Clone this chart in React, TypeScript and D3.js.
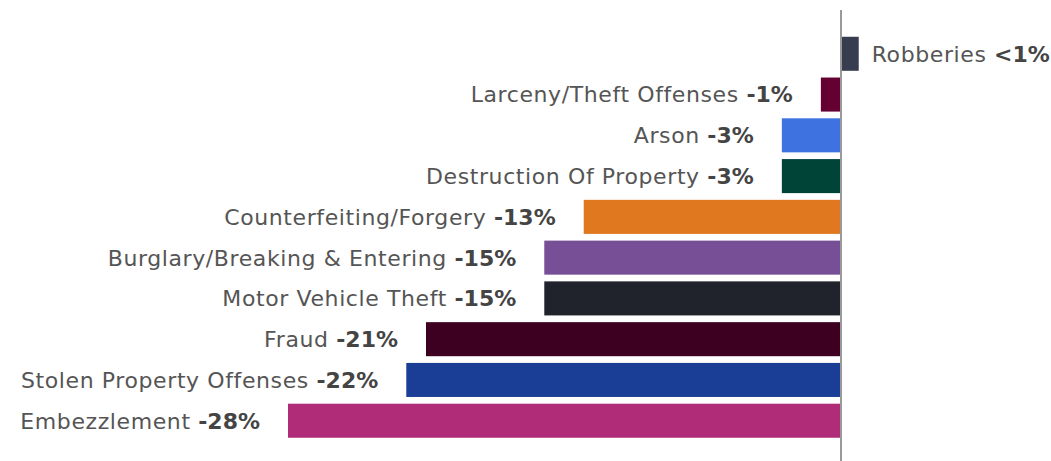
import React from 'react';
import * as d3 from 'd3';

const categories = [
  'Robberies',
  'Larceny/Theft Offenses',
  'Arson',
  'Destruction Of Property',
  'Counterfeiting/Forgery',
  'Burglary/Breaking & Entering',
  'Motor Vehicle Theft',
  'Fraud',
  'Stolen Property Offenses',
  'Embezzlement',
];
const values = [0.95, -0.97, -2.95, -2.95, -13, -15, -15, -21, -22, -28];
const valueLabels = ['<1%', '-1%', '-3%', '-3%', '-13%', '-15%', '-15%', '-21%', '-22%', '-28%'];
const colors = [
  '#373c4e', '#650033', '#3e72e0', '#004437', '#e0781f',
  '#764f97', '#20232b', '#3d0020', '#1a3e96', '#b02b78',
];

const W = 1051;
const H = 461;

const App = () => {
  const x = d3.scaleLinear().domain([-28, 0]).range([288, 840]);
  const y = d3.scaleBand().domain(categories).range([33.5, 441]).paddingInner(0.165).paddingOuter(0.08);
  const font = "'DejaVu Sans', sans-serif";

  return (
    <svg width={W} height={H} style={{ position: 'absolute', left: 0, top: 0 }}>
      {categories.map((c, i) => {
        const v = values[i];
        const x0 = x(Math.min(0, v));
        const x1 = x(Math.max(0, v));
        const yc = (y(c) as number) + y.bandwidth() / 2;
        const neg = v < 0;
        return (
          <g key={c}>
            <rect x={x0} y={y(c)} width={x1 - x0} height={y.bandwidth()} fill={colors[i]} />
            <text
              x={neg ? x0 - 28 : x1 + 13}
              y={yc}
              dy="0.36em"
              textAnchor={neg ? 'end' : 'start'}
              fontFamily={font}
              fontSize={22}
              letterSpacing={0.6}
              fill="#555"
            >
              {c}{' '}
              <tspan fontWeight="bold" fill="#444" letterSpacing={0}>{valueLabels[i]}</tspan>
            </text>
          </g>
        );
      })}
      <line x1={x(0) + 1} x2={x(0) + 1} y1={10} y2={H} stroke="#999" strokeWidth={2} />
    </svg>
  );
};

export default App;
